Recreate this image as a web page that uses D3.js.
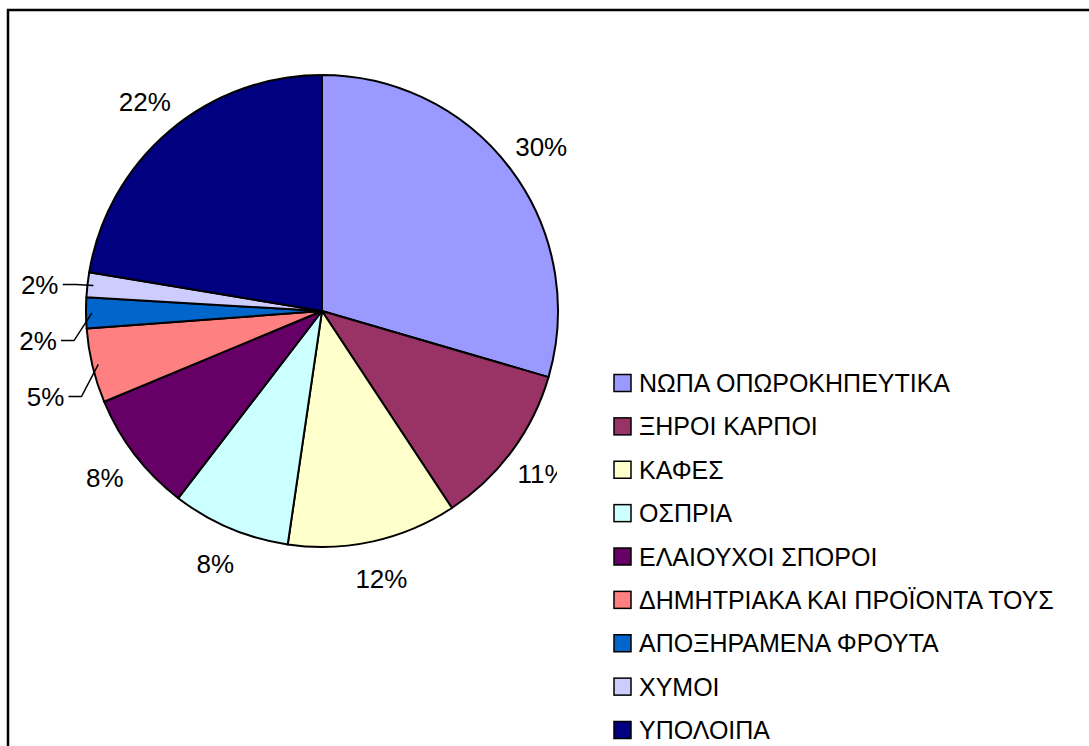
<!DOCTYPE html>
<html>
<head>
<meta charset="utf-8">
<script src="https://cdn.jsdelivr.net/npm/d3@7"></script>
<style>
  html, body { margin: 0; padding: 0; background: #fff; }
  text { font-family: "Liberation Sans", Arial, sans-serif; fill: #000; }
</style>
</head>
<body>
<div id="chart"></div>
<script>
const categories = [
  "ΝΩΠΑ ΟΠΩΡΟΚΗΠΕΥΤΙΚΑ",
  "ΞΗΡΟΙ ΚΑΡΠΟΙ",
  "ΚΑΦΕΣ",
  "ΟΣΠΡΙΑ",
  "ΕΛΑΙΟΥΧΟΙ ΣΠΟΡΟΙ",
  "ΔΗΜΗΤΡΙΑΚΑ ΚΑΙ ΠΡΟΪΟΝΤΑ ΤΟΥΣ",
  "ΑΠΟΞΗΡΑΜΕΝΑ ΦΡΟΥΤΑ",
  "ΧΥΜΟΙ",
  "ΥΠΟΛΟΙΠΑ"
];
const values = [29.52, 11.2, 11.6, 8.1, 8.3, 5.1, 2.1, 1.7, 22.38];
const colors = ["#9999FF", "#993366", "#FFFFCC", "#CCFFFF", "#660066", "#FF8080", "#0066CC", "#CCCCFF", "#000080"];

const width = 1089, height = 746;
const cx = 322, cy = 311, radius = 236;

const svg = d3.select("#chart")
  .append("svg")
  .attr("width", width)
  .attr("height", height);

// outer frame (right edge falls outside the picture)
svg.append("rect")
  .attr("x", 8)
  .attr("y", 10)
  .attr("width", 1200)
  .attr("height", 900)
  .attr("fill", "none")
  .attr("stroke", "#000")
  .attr("stroke-width", 2.5);

const total = d3.sum(values);
const pie = d3.pie().sort(null).value((d) => d);
const arcs = pie(values);

const arc = d3.arc().innerRadius(0).outerRadius(radius);
const labelArc = d3.arc().innerRadius(274).outerRadius(274);

const g = svg.append("g").attr("transform", `translate(${cx},${cy})`);

g.selectAll("path")
  .data(arcs)
  .join("path")
  .attr("d", arc)
  .attr("fill", (d, i) => colors[i])
  .attr("stroke", "#000")
  .attr("stroke-width", 2)
  .attr("stroke-linejoin", "round");

// label positions; small slices get pushed down with leader lines
const labels = arcs.map((a, i) => {
  const [x, y] = labelArc.centroid(a);
  const pct = (a.value / total) * 100;
  return { i, a, x, y, pct, text: Math.round(pct) + "%", small: pct < 6 };
});

const small = labels.filter((d) => d.small).sort((p, q) => p.y - q.y);
let lastY = -Infinity;
small.forEach((d) => {
  d.x -= 10;
  d.y = Math.max(d.y + 4, lastY + 56);
  lastY = d.y;
});

const mid = (a) => (a.startAngle + a.endAngle) / 2;

g.selectAll("polyline")
  .data(small)
  .join("polyline")
  .attr("points", (d) => {
    const x0 = d.x + 23;
    const x1 = x0 + 13;
    const m = mid(d.a);
    const r = radius - 6;
    return [[x0, d.y], [x1, d.y], [r * Math.sin(m), -r * Math.cos(m)]].map((p) => p.join(",")).join(" ");
  })
  .attr("fill", "none")
  .attr("stroke", "#000")
  .attr("stroke-width", 1.5);

g.selectAll("text.pct")
  .data(labels)
  .join("text")
  .attr("class", "pct")
  .attr("x", (d) => d.x)
  .attr("y", (d) => d.y)
  .attr("dy", "0.36em")
  .attr("text-anchor", "middle")
  .style("font-size", "26px")
  .text((d) => d.text);

// legend background sits above the labels and clips the 11% label, as in the original
svg.append("rect")
  .attr("x", 557)
  .attr("y", 355)
  .attr("width", 600)
  .attr("height", 500)
  .attr("fill", "#fff");

const legendY = d3.scalePoint()
  .domain(categories)
  .range([383, 730]);

const legend = svg.append("g")
  .selectAll("g")
  .data(categories)
  .join("g")
  .attr("transform", (d) => `translate(614,${legendY(d)})`);

legend.append("rect")
  .attr("x", 0)
  .attr("y", -8.5)
  .attr("width", 17)
  .attr("height", 17)
  .attr("fill", (d, i) => colors[i])
  .attr("stroke", "#000")
  .attr("stroke-width", 1.5);

legend.append("text")
  .attr("x", 25)
  .attr("y", 0)
  .attr("dy", "0.36em")
  .style("font-size", "25px")
  .text((d) => d);
</script>
</body>
</html>
